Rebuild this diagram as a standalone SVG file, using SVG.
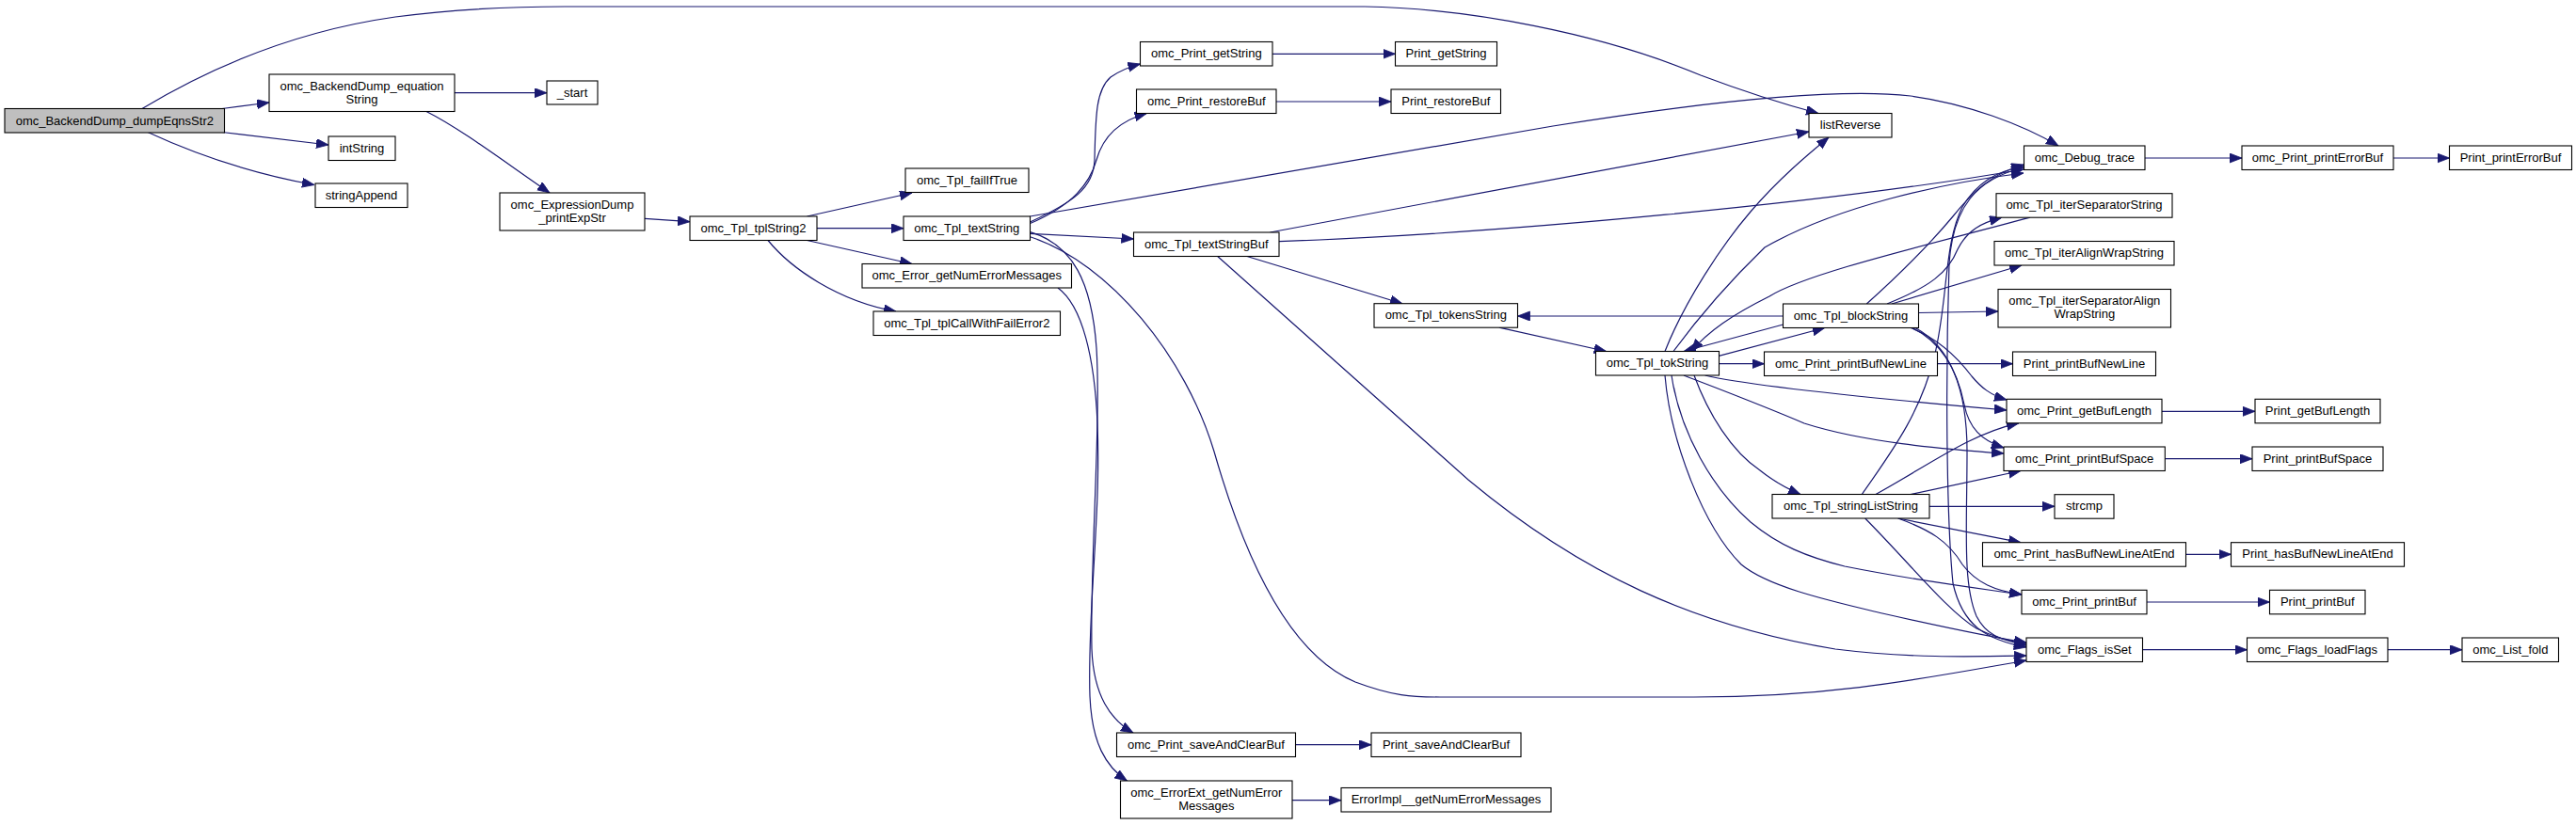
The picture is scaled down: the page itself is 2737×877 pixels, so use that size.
<svg xmlns="http://www.w3.org/2000/svg" width="2737" height="877" viewBox="0 0 2737 877">
<defs>
<marker id="arr" markerUnits="userSpaceOnUse" markerWidth="14" markerHeight="11" refX="13" refY="5" orient="auto">
<path d="M0,0 L13,5 L0,10 z" fill="#191970" stroke="#191970" stroke-width="0.8"/>
</marker>
<style>
.node rect{fill:#ffffff;stroke:#000000;stroke-width:1.1}
.root rect{fill:#bfbfbf}
text{font-family:"Liberation Sans",Arial,Helvetica,sans-serif;font-size:13px;text-anchor:middle;fill:#000000}
.edges path{fill:none;stroke:#191970;stroke-width:1.2;marker-end:url(#arr)}
</style>
</defs>
<rect width="2737" height="877" fill="#ffffff"/>
<g class="edges">
<path d="M151,115.5 C210,80 300,35 420,18 C480,10 540,7 600,7 L1450,7 C1560,9 1700,35 1807,80 C1860,100 1900,112 1932,120.5"/>
<path d="M236,115.5 L286,109"/>
<path d="M236,140.5 L349,154"/>
<path d="M157,140.5 C210,165 270,185 334,196.5"/>
<path d="M483,98.7 L581,98.7"/>
<path d="M453,118.5 C490,137 540,175 584,205"/>
<path d="M685,232.3 L733,235.7"/>
<path d="M857.5,230 L969,205"/>
<path d="M868,242.7 L960,242.7"/>
<path d="M857.5,255.5 L969,280.5"/>
<path d="M816,255.5 C840,285 890,320 952,331"/>
<path d="M1094.5,236 C1140,215 1162,200 1163,170 C1164,120 1165,95 1180,82 C1190,75 1200,71 1211.5,68"/>
<path d="M1094.5,237.5 C1140,218 1158,195 1165,170 C1172,145 1190,128 1218.5,120.5"/>
<path d="M1094.5,230 L1650,134 C1800,110 1950,93 2030,102 C2090,110 2150,133 2187,155"/>
<path d="M1094.5,248.3 L1204.5,254"/>
<path d="M1094.5,251.7 C1180,280 1260,380 1290,480 C1330,620 1380,700 1440,725 C1480,740 1500,741 1530,741 L1800,741 C1950,741 2050,720 2153,702"/>
<path d="M1094.5,246.7 C1140,260 1160,300 1165,370 C1170,450 1158,600 1160,690 C1162,740 1180,765 1204,779"/>
<path d="M1124,306 C1150,325 1163,380 1166,450 C1170,550 1155,650 1158,740 C1160,790 1175,815 1197.5,830"/>
<path d="M1352,57.3 L1482.5,57.3"/>
<path d="M1356,108 L1478,108"/>
<path d="M1376.5,791.7 L1457,791.7"/>
<path d="M1373,850.7 L1425,850.7"/>
<path d="M1349.5,247 L1922,140"/>
<path d="M1359,256.7 C1600,248 1950,215 2150,180"/>
<path d="M1325,272.5 L1490,322.7"/>
<path d="M1293.7,272.5 L1560,510 C1680,610 1800,665 1950,690 C2030,700 2100,698 2153,697"/>
<path d="M1894.5,336 L1612.5,336"/>
<path d="M1592.8,348.2 L1706.7,373.5"/>
<path d="M1826.3,378.3 L1938.8,348.5"/>
<path d="M1894.5,345 L1789,373.5"/>
<path d="M1769,373.5 C1790,320 1830,260 1860,225 C1890,190 1920,165 1943,146"/>
<path d="M1778,373.5 C1810,330 1845,292 1875,263 C1950,220 2060,195 2150,184"/>
<path d="M2157,231.2 C2050,260 1920,290 1880,315 C1840,335 1815,352 1797,373.5"/>
<path d="M1826.5,386.7 L1874.5,386.7"/>
<path d="M2058.5,386.7 L2138.5,386.7"/>
<path d="M2038.5,332.5 L2123,331"/>
<path d="M2010,323 L2148,282"/>
<path d="M2005,323 C2050,305 2070,290 2080,265 C2090,245 2105,237 2127,231.2"/>
<path d="M1983.3,323 C2020,290 2050,260 2075,230 C2095,205 2115,185 2150,175"/>
<path d="M2279,168 L2382,168"/>
<path d="M2543,168 L2602.5,168"/>
<path d="M1978.3,525.5 C2010,480 2040,440 2055,380 C2070,320 2065,260 2085,220 C2100,195 2120,182 2150,177"/>
<path d="M2150.5,178 C2100,190 2075,220 2071,280 C2067,400 2068,550 2075,620 C2085,665 2110,680 2153,688"/>
<path d="M2030,348.5 C2060,360 2080,380 2095,400 C2105,412 2115,420 2132,425"/>
<path d="M2032,348.5 C2065,365 2080,395 2087,430 C2092,455 2105,468 2129,476"/>
<path d="M2035,348.5 C2075,370 2090,420 2090,480 C2090,560 2085,620 2100,655 C2110,675 2125,680 2153,686"/>
<path d="M1811.6,399 C1850,408 1950,420 2132,436"/>
<path d="M1789,399 C1830,415 1870,430 1917,450 C1980,470 2060,477 2129,482"/>
<path d="M1800,399 C1815,440 1840,480 1870,500 C1885,512 1900,520 1913,525.5"/>
<path d="M1769,399 C1775,470 1810,560 1850,600 C1880,625 1950,640 2000,652 C2080,670 2120,678 2153,683"/>
<path d="M1776,399 C1785,460 1820,520 1860,555 C1890,580 1920,592 1960,602 C2040,618 2100,625 2148,632"/>
<path d="M1993,525.5 C2030,505 2060,485 2090,470 C2110,460 2125,454 2145,449.8"/>
<path d="M2030,525.5 L2147,500.5"/>
<path d="M2050,538.3 L2183,538.3"/>
<path d="M2016.7,551 L2147,576.7"/>
<path d="M2016.7,551 C2050,563 2070,575 2085,600 C2100,620 2120,628 2148,632"/>
<path d="M1981.7,551 C2030,600 2070,650 2100,668 C2120,678 2135,682 2153,684"/>
<path d="M2297,437.3 L2396,437.3"/>
<path d="M2300.3,487.7 L2393,487.7"/>
<path d="M2322.5,589.3 L2370.5,589.3"/>
<path d="M2281,640 L2411.5,640"/>
<path d="M2276.5,690.7 L2387.5,690.7"/>
<path d="M2537,690.7 L2616,690.7"/>
</g>
<g id="n1" class="node root"><rect x="5" y="115.5" width="233.5" height="25.5"/><text x="121.8" y="132.5">omc_BackendDump_dumpEqnsStr2</text></g>
<g id="n2" class="node"><rect x="286" y="79" width="197" height="39.5"/><text x="384.5" y="95.5">omc_BackendDump_equation</text><text x="384.5" y="109.5">String</text></g>
<g id="n3" class="node"><rect x="581" y="86" width="54" height="25"/><text x="608" y="102.5">_start</text></g>
<g id="n4" class="node"><rect x="349" y="145" width="71" height="25.5"/><text x="384.5" y="161.5">intString</text></g>
<g id="n5" class="node"><rect x="335" y="195" width="98" height="25.5"/><text x="384" y="211.5">stringAppend</text></g>
<g id="n6" class="node"><rect x="531" y="205" width="154" height="40"/><text x="608" y="221.5">omc_ExpressionDump</text><text x="608" y="235.5">_printExpStr</text></g>
<g id="n7" class="node"><rect x="733" y="230" width="135" height="25.5"/><text x="800.5" y="246.5">omc_Tpl_tplString2</text></g>
<g id="n8" class="node"><rect x="962" y="179" width="131" height="25.5"/><text x="1027.5" y="195.5">omc_Tpl_failIfTrue</text></g>
<g id="n9" class="node"><rect x="960" y="230" width="134.5" height="25.5"/><text x="1027.3" y="246.5">omc_Tpl_textString</text></g>
<g id="n10" class="node"><rect x="916" y="280.5" width="222.5" height="25.5"/><text x="1027.3" y="297">omc_Error_getNumErrorMessages</text></g>
<g id="n11" class="node"><rect x="928" y="331" width="198.5" height="25.5"/><text x="1027.3" y="347.5">omc_Tpl_tplCallWithFailError2</text></g>
<g id="n12" class="node"><rect x="1211.5" y="44.5" width="140.5" height="25.5"/><text x="1281.8" y="61">omc_Print_getString</text></g>
<g id="n13" class="node"><rect x="1207.5" y="95" width="148.5" height="25.5"/><text x="1281.8" y="111.5">omc_Print_restoreBuf</text></g>
<g id="n14" class="node"><rect x="1204.5" y="247" width="154.5" height="25.5"/><text x="1281.8" y="263.5">omc_Tpl_textStringBuf</text></g>
<g id="n15" class="node"><rect x="1186.5" y="779" width="190" height="25.5"/><text x="1281.5" y="795.5">omc_Print_saveAndClearBuf</text></g>
<g id="n16" class="node"><rect x="1190.5" y="830" width="182.5" height="40"/><text x="1281.8" y="846.5">omc_ErrorExt_getNumError</text><text x="1281.8" y="860.5">Messages</text></g>
<g id="n17" class="node"><rect x="1482.5" y="44.5" width="108" height="25.5"/><text x="1536.5" y="61">Print_getString</text></g>
<g id="n18" class="node"><rect x="1478" y="95" width="116.5" height="25.5"/><text x="1536.3" y="111.5">Print_restoreBuf</text></g>
<g id="n19" class="node"><rect x="1457" y="779" width="159" height="25.5"/><text x="1536.5" y="795.5">Print_saveAndClearBuf</text></g>
<g id="n20" class="node"><rect x="1425" y="837.5" width="223" height="25.5"/><text x="1536.5" y="854">ErrorImpl__getNumErrorMessages</text></g>
<g id="n21" class="node"><rect x="1922" y="120.5" width="88" height="25.5"/><text x="1966" y="137">listReverse</text></g>
<g id="n22" class="node"><rect x="1460" y="322.7" width="152.5" height="25.5"/><text x="1536.3" y="339.2">omc_Tpl_tokensString</text></g>
<g id="n23" class="node"><rect x="1894.5" y="323" width="144" height="25.5"/><text x="1966.5" y="339.5">omc_Tpl_blockString</text></g>
<g id="n24" class="node"><rect x="1695.5" y="373.5" width="131" height="25.5"/><text x="1761" y="390">omc_Tpl_tokString</text></g>
<g id="n25" class="node"><rect x="1874.5" y="374" width="184" height="25.5"/><text x="1966.5" y="390.5">omc_Print_printBufNewLine</text></g>
<g id="n26" class="node"><rect x="1883" y="525.5" width="167" height="25.5"/><text x="1966.5" y="542">omc_Tpl_stringListString</text></g>
<g id="n27" class="node"><rect x="2150.5" y="155" width="128.5" height="25.5"/><text x="2214.8" y="171.5">omc_Debug_trace</text></g>
<g id="n28" class="node"><rect x="2382" y="155" width="161" height="25.5"/><text x="2462.5" y="171.5">omc_Print_printErrorBuf</text></g>
<g id="n29" class="node"><rect x="2602.5" y="155" width="130" height="25.5"/><text x="2667.5" y="171.5">Print_printErrorBuf</text></g>
<g id="n30" class="node"><rect x="2121" y="205.7" width="187" height="25.5"/><text x="2214.5" y="222.2">omc_Tpl_iterSeparatorString</text></g>
<g id="n31" class="node"><rect x="2119" y="256.5" width="191" height="25.5"/><text x="2214.5" y="273">omc_Tpl_iterAlignWrapString</text></g>
<g id="n32" class="node"><rect x="2123" y="307.5" width="183.5" height="40.5"/><text x="2214.8" y="324">omc_Tpl_iterSeparatorAlign</text><text x="2214.8" y="338">WrapString</text></g>
<g id="n33" class="node"><rect x="2138.5" y="374" width="152" height="25.5"/><text x="2214.5" y="390.5">Print_printBufNewLine</text></g>
<g id="n34" class="node"><rect x="2132" y="424.3" width="165" height="25.5"/><text x="2214.5" y="440.8">omc_Print_getBufLength</text></g>
<g id="n35" class="node"><rect x="2396" y="424.3" width="133" height="25.5"/><text x="2462.5" y="440.8">Print_getBufLength</text></g>
<g id="n36" class="node"><rect x="2129" y="475" width="171.3" height="25.5"/><text x="2214.6" y="491.5">omc_Print_printBufSpace</text></g>
<g id="n37" class="node"><rect x="2393" y="475" width="139" height="25.5"/><text x="2462.5" y="491.5">Print_printBufSpace</text></g>
<g id="n38" class="node"><rect x="2183" y="525.7" width="63" height="25.5"/><text x="2214.5" y="542.2">strcmp</text></g>
<g id="n39" class="node"><rect x="2106.5" y="576.7" width="216" height="25.5"/><text x="2214.5" y="593.2">omc_Print_hasBufNewLineAtEnd</text></g>
<g id="n40" class="node"><rect x="2370.5" y="576.7" width="184" height="25.5"/><text x="2462.5" y="593.2">Print_hasBufNewLineAtEnd</text></g>
<g id="n41" class="node"><rect x="2148" y="627.3" width="133" height="25.5"/><text x="2214.5" y="643.8">omc_Print_printBuf</text></g>
<g id="n42" class="node"><rect x="2411.5" y="627.3" width="101.5" height="25.5"/><text x="2462.3" y="643.8">Print_printBuf</text></g>
<g id="n43" class="node"><rect x="2153" y="678" width="123.5" height="25.5"/><text x="2214.8" y="694.5">omc_Flags_isSet</text></g>
<g id="n44" class="node"><rect x="2387.5" y="678" width="149.5" height="25.5"/><text x="2462.3" y="694.5">omc_Flags_loadFlags</text></g>
<g id="n45" class="node"><rect x="2616" y="678" width="102.5" height="25.5"/><text x="2667.3" y="694.5">omc_List_fold</text></g>
</svg>
